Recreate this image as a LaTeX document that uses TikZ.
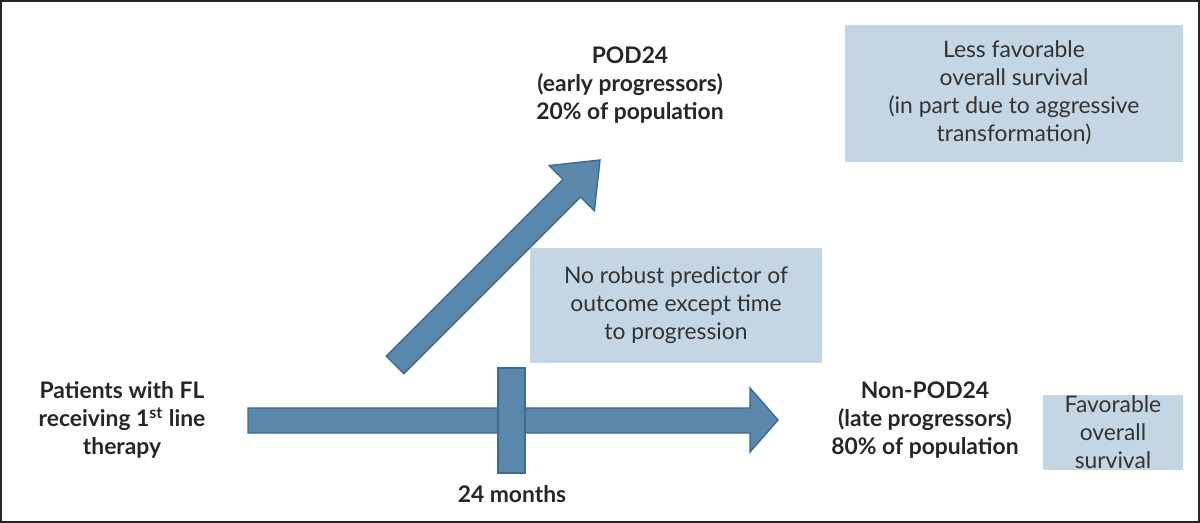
\documentclass[tikz,border=0pt]{standalone}
\usepackage{fontspec}
\setmainfont{Lato}
\usetikzlibrary{positioning}
\definecolor{arrowblue}{HTML}{5B87AB}
\definecolor{arrowedge}{HTML}{3E6B92}
\definecolor{boxblue}{HTML}{C4D6E4}
\tikzset{
  bigarrow/.style={fill=arrowblue, draw=arrowedge, line width=0.8pt},
  lbl/.style={font=\fontsize{13}{16}\selectfont\bfseries, align=center, text=black!85},
  note/.style={fill=boxblue, font=\fontsize{13}{16}\selectfont, align=center, text=black!80, inner sep=0pt}
}
\begin{document}
\begin{tikzpicture}[x=0.02cm, y=-0.02cm]
  \useasboundingbox (0,0) rectangle (1200,523);
  \draw[line width=1.2pt, black!85] (1,1) rectangle (1199,522);

  % arrows
  \draw[bigarrow] (248,408) -- (750,408) -- (750,388) -- (778,420) -- (750,452)
        -- (750,433) -- (248,433) -- cycle;
  \draw[bigarrow] (498,368) rectangle (525,473);
  \draw[bigarrow] (386.2,356.2) -- (563.0,179.4) -- (549.2,165.6) -- (600,160)
        -- (594.4,210.8) -- (580.6,197.0) -- (403.8,373.8) -- cycle;

  % notes
  \fill[boxblue] (845,25) rectangle (1183,162);
  \node[note] (worse) at (1014,93) {Less favorable\\overall survival\\(in part due to aggressive\\transformation)};
  \fill[boxblue] (530,248) rectangle (822,363);
  \node[note] (predictor) at (676,305) {No robust predictor of\\outcome except time\\to progression};
  \fill[boxblue] (1043,395) rectangle (1183,470);
  \node[note] (better) at (1113,432) {Favorable\\overall\\survival};

  % labels
  \node[lbl] (patients) at (122,420) {Patients with FL\\receiving 1\textsuperscript{st} line\\therapy};
  \node[lbl] (months) at (512,494) {24 months};
  \node[lbl] (late) at (925,420) {Non-POD24\\(late progressors)\\80\% of population};
  \node[lbl] (early) at (630,85) {POD24\\(early progressors)\\20\% of population};
\end{tikzpicture}
\end{document}
